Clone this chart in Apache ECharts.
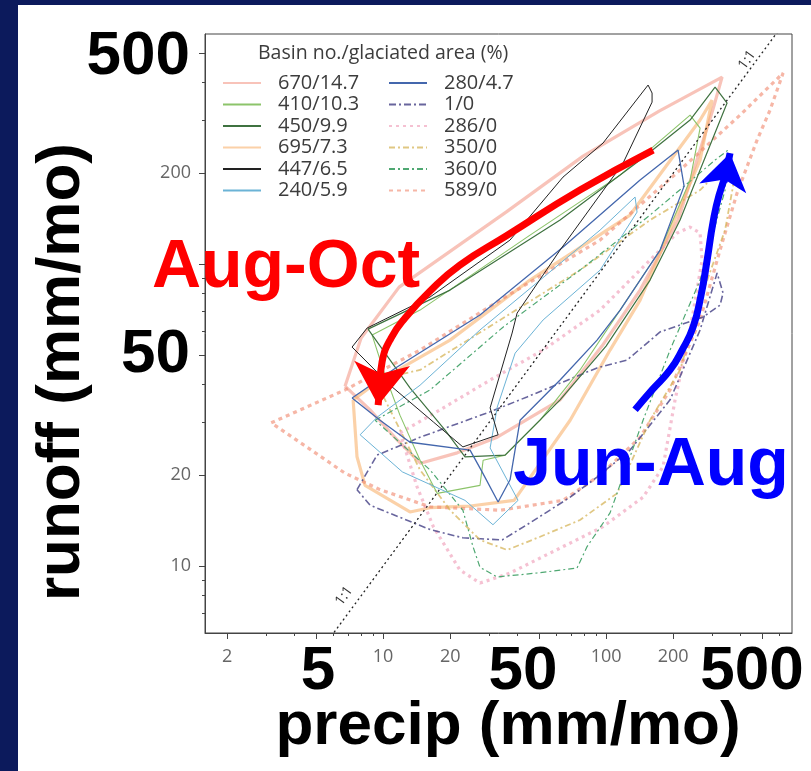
<!DOCTYPE html>
<html><head><meta charset="utf-8">
<script src="https://cdn.jsdelivr.net/npm/echarts@6/dist/echarts.min.js"></script>
<style>html,body{margin:0;padding:0;background:#fff;overflow:hidden}#c{width:811px;height:771px}</style>
</head><body><div id="c"></div>
<script>
// ---------- data (precip mm/mo, runoff mm/mo) ----------
const seriesNames = ['670/14.7','410/10.3','450/9.9','695/7.3','447/6.5','240/5.9','280/4.7','1/0','286/0','350/0','360/0','589/0'];
const s670 = [[6.75,39.4],[7.97,56.9],[11.8,83.9],[35.6,148.6],[78.9,227.8],[172.9,321.1],[331.3,416],[301.8,326.1],[210.3,139.9],[142.1,82.0],[95.9,53.5],[62.2,35.5],[32.5,26.7],[21.5,23.7],[14.7,21.9],[11.6,26.1],[8.74,32.9],[6.75,39.4]];
const s410 = [[8.93,58.2],[14.65,70.4],[45.6,124.7],[115.6,197.1],[238.1,311.5],[264.0,282.0],[238.1,189.7],[174.7,111.3],[115.6,70.4],[76.4,44.6],[50.6,30.4],[35.25,23.3],[28.1,22.4],[27.2,18.5],[17.5,17.4],[14.65,22.4],[11.9,31.6],[10.2,42.9],[8.93,58.2]];
const s450 = [[8.56,60.9],[19.97,82.0],[62.2,139.9],[142.1,221.0],[238.1,299.9],[308.2,385.6],[348.9,341.3],[264.0,204.8],[214.7,139.9],[157.5,88.5],[100,53.5],[62.2,35.5],[35.25,23.3],[23.3,23.0],[18.97,28.2],[13.2,38.9],[8.56,60.9]];
const s695 = [[7.34,35.5],[9.69,41.3],[19.97,56.0],[45.6,88.5],[128.1,145.3],[264.0,299.9],[298.7,349.2],[264.0,221.0],[193.6,129.6],[142.1,76.0],[104.2,51.9],[69.0,30.4],[38.7,16.5],[24.6,15.8],[16.25,15.6],[13.2,15.1],[8.3,18.5],[7.64,23.0],[7.34,35.5]];
const s447 = [[7.26,53.1],[8.48,61.4],[16.25,77.8],[37.1,120.1],[64.1,194.1],[96.9,251.6],[154.3,391.6],[160.8,368.5],[160.8,343.8],[119.2,216],[62.2,111.3],[39.9,68.8],[37.9,59.1],[30.2,33.4],[32.8,27.2],[22.8,24.8],[16.8,30.0],[10.75,39.7],[7.26,53.1]];
const s240 = [[7.89,27.2],[9.40,31.1],[14.65,39.7],[27.2,60.5],[50.6,88.5],[94.0,129.6],[134.9,166.7],[137.7,148.6],[94.0,95.5],[52.2,65.3],[39.1,50.7],[32.5,33.6],[30.2,24.6],[40.3,16.5],[31.1,13.7],[23.3,16.5],[12.2,20.5],[7.89,27.2]];
const s280 = [[7.26,36.0],[11.56,45.6],[27.2,67.8],[64.2,113.8],[142.1,189.7],[210.3,238.5],[223.8,181.2],[174.7,111.3],[115.6,70.4],[91.1,56.0],[62.2,41.3],[41.15,30.4],[37.1,19.3],[32.8,16.3],[27.8,20.5],[24.55,24.2],[13.2,25.7],[9.69,30.4],[7.26,36.0]];
const s1 = [[7.64,17.9],[9.40,23.3],[14.65,26.7],[30.2,32.4],[44.2,36.3],[91.1,45.3],[124.2,48.1],[174.7,59.6],[272.3,66.8],[324.5,73.1],[334.7,80.2],[314.7,93.4],[264.0,60.5],[193.6,35.5],[128.1,24.2],[91.1,19.7],[69.0,16.9],[45.6,13.9],[34.2,12.2],[22.8,12.4],[16.25,13.2],[8.74,15.9],[7.64,17.9]];
const s286 = [[11.92,27.6],[18.0,32.9],[30.2,41.3],[52.2,51.9],[94.0,70.4],[157.5,103.1],[208.2,126.7],[238.1,132.6],[264.0,126.7],[269.5,103.1],[238.1,60.5],[203.9,35.5],[180.1,21.3],[146.5,16.9],[96.9,13.5],[64.2,11.6],[37.1,9.48],[27.2,8.78],[22.1,9.7],[16.8,13.5],[14.2,18.3],[11.92,27.6]];
const s350 = [[9.21,41.3],[14.65,44.6],[33.5,65.3],[76.4,95.5],[157.5,139.9],[264.0,175.8],[341.7,212.7],[378.8,197.1],[341.7,129.6],[264.0,76.0],[214.7,44.6],[157.5,30.4],[112.0,17.4],[76.4,14.2],[50.6,12.5],[36.0,11.3],[27.2,12.2],[20.0,15.3],[14.65,20.8],[9.21,41.3]];
const s360 = [[9.21,30.4],[16.25,38.3],[34.5,61.8],[76.4,95.5],[157.5,145.3],[308.2,221.0],[352.5,238.5],[341.7,175.8],[264.0,88.5],[193.6,51.9],[146.5,30.4],[104.2,15.0],[82.2,11.6],[74.1,9.85],[49.05,9.48],[32.45,9.2],[27.2,9.9],[25.3,11.6],[22.8,15.3],[16.25,20.8],[9.21,30.4]];
const s589 = [[3.15,29.8],[6.75,38.3],[14.65,51.9],[33.5,76.0],[94.0,120.1],[214.7,204.8],[398.9,311.5],[621.9,429],[543.7,323.6],[475.5,257.4],[386.7,171.8],[324.5,111.3],[264.0,65.3],[193.6,38.3],[142.1,26.7],[94.0,20.0],[64.2,16.5],[33.5,15.3],[16.25,15.7],[9.69,17.9],[6.75,20.3],[3.15,29.8]];
const oneToOne = [[5.5,5.5],[700,700]];
// annotation arrows (data coordinates)
const arrowAugOct = [[162.5,238.5],[76.4,175.8],[35.6,123.8],[22.1,99.2],[16.25,81.4],[12.55,66.3],[10.86,56.9],[9.9,47.5],[9.6,37.7]];
const arrowAugOctHead = [[9.79,42.9],[9.5,34.1]];
const arrowJunAug = [[134.9,32.9],[160.8,38.3],[193.6,44.6],[219.2,51.9],[245.5,61.8],[266.7,79.0],[283.9,103.1],[301.8,137.7],[321.1,169.2],[348.9,201.7]];
const arrowJunAugHead = [[338.2,186.9],[359.7,233]];
// axes
const xRange = [1.59, 682];
const yRange = [6.0, 578];
const xLabels = [2,10,20,100,200];
const xMajorTicks = [2,5,10,20,50,100,200,500];
const xMinorTicks = [3,4,6,7,8,9,30,40,60,70,80,90,300,400,600];
const yLabels = [10,20,200];
const yMajorTicks = [10,20,50,100,200,500];
const yMinorTicks = [7,8,9,30,40,60,70,80,90,300,400];
const bigXLabels = ['5','50','500'];
const bigYLabels = ['500','50'];
const legendTitle = 'Basin no./glaciated area (%)';

// ---------- styles ----------
const dataByName = {'670/14.7':s670,'410/10.3':s410,'450/9.9':s450,'695/7.3':s695,'447/6.5':s447,'240/5.9':s240,'280/4.7':s280,'1/0':s1,'286/0':s286,'350/0':s350,'360/0':s360,'589/0':s589};
const styles = {
 '670/14.7': {color:'#f2927f', width:3.2, type:'solid', opacity:0.55, z:2},
 '410/10.3': {color:'#8cc46a', width:1.1, type:'solid', opacity:1, z:4},
 '450/9.9':  {color:'#3f7240', width:1.2, type:'solid', opacity:1, z:4},
 '695/7.3':  {color:'#f8b26e', width:3.2, type:'solid', opacity:0.6, z:2},
 '447/6.5':  {color:'#222222', width:1, type:'solid', opacity:1, z:5},
 '240/5.9':  {color:'#6bb3d6', width:1, type:'solid', opacity:1, z:4},
 '280/4.7':  {color:'#4467ad', width:1.3, type:'solid', opacity:1, z:4},
 '1/0':      {color:'#4d4a8c', width:1.6, type:[7,3,2,3], opacity:0.85, z:3},
 '286/0':    {color:'#ef97b4', width:3.2, type:[3,4], opacity:0.6, z:2},
 '350/0':    {color:'#d5b45a', width:1.8, type:[6,3,2,3], opacity:0.75, z:3},
 '360/0':    {color:'#4fa872', width:1.2, type:[6,3,2,3], opacity:1, z:3},
 '589/0':    {color:'#f0866a', width:3.2, type:[4,4], opacity:0.6, z:2}
};

const series = seriesNames.map(n => ({
  name:n, type:'line', data:dataByName[n], symbol:'none', z:styles[n].z, silent:true,
  itemStyle:{color:styles[n].color},
  lineStyle:{color:styles[n].color, width:styles[n].width, type:styles[n].type, opacity:styles[n].opacity}
}));
series.push({name:'1:1', type:'line', data:oneToOne, symbol:'none', z:6, silent:true,
  lineStyle:{color:'#222', width:1.3, type:[2,3]}});
function arrowBody(coords, color){
  return {type:'line', data:coords, smooth:0.5, symbol:'none', z:10, silent:true,
    lineStyle:{color:color, width:7, opacity:1, cap:'butt'}};
}
function arrowHead(coords, color, size){
  return {type:'lines', coordinateSystem:'cartesian2d', z:11, silent:true,
    data:[{coords:coords}], symbol:['none','arrow'], symbolSize:size,
    lineStyle:{color:color, width:7, opacity:1}, itemStyle:{color:color}};
}
series.push(arrowBody(arrowAugOct,'#ff0000'), arrowHead(arrowAugOctHead,'#ff0000',42));
series.push(arrowBody(arrowJunAug,'#0000ff'), arrowHead(arrowJunAugHead,'#0000ff',36));

const navy = '#0c1a5c';
const smallFont = 'Open Sans';
const bigFont = 'Liberation Sans, Arial, sans-serif';
const bigXPos = [[318,672],[523,672],[752,672]];
const bigYPos = [[190,57],[190,355]];

const graphic = [
  {type:'rect', shape:{x:0,y:0,width:18,height:771}, style:{fill:navy}, z:200},
  {type:'rect', shape:{x:0,y:0,width:811,height:5}, style:{fill:navy}, z:200},
  {type:'text', x:62, y:372, rotation:Math.PI/2, z:100, style:{text:'runoff (mm/mo)', fontFamily:bigFont, fontWeight:'bold', fontSize:62, fill:'#000', textAlign:'center', textVerticalAlign:'middle'}},
  {type:'text', x:508, y:727, z:100, style:{text:'precip (mm/mo)', fontFamily:bigFont, fontWeight:'bold', fontSize:62, fill:'#000', textAlign:'center', textVerticalAlign:'middle'}},
  {type:'text', x:286, y:268, z:100, style:{text:'Aug-Oct', fontFamily:bigFont, fontWeight:'bold', fontSize:68, fill:'#ff0000', textAlign:'center', textVerticalAlign:'middle'}},
  {type:'text', x:651, y:466, z:100, style:{text:'Jun-Aug', fontFamily:bigFont, fontWeight:'bold', fontSize:68, fill:'#0000ff', textAlign:'center', textVerticalAlign:'middle'}},
  {type:'text', x:747, y:60, rotation:0.94, z:50, style:{text:'1:1', fontFamily:smallFont, fontSize:14, fill:'#333', textAlign:'center', textVerticalAlign:'middle'}},
  {type:'text', x:344, y:596, rotation:0.94, z:50, style:{text:'1:1', fontFamily:smallFont, fontSize:14, fill:'#333', textAlign:'center', textVerticalAlign:'middle'}}
];
bigXLabels.forEach((t,i)=>graphic.push({type:'text', x:bigXPos[i][0], y:bigXPos[i][1], z:100,
  style:{text:t, fontFamily:bigFont, fontWeight:'bold', fontSize:62, fill:'#000', textAlign:'center', textVerticalAlign:'middle'}}));
bigYLabels.forEach((t,i)=>graphic.push({type:'text', x:bigYPos[i][0], y:bigYPos[i][1], z:100,
  style:{text:t, fontFamily:bigFont, fontWeight:'bold', fontSize:62, fill:'#000', textAlign:'right', textVerticalAlign:'middle'}}));

const axisColor = '#444';
const legendBase = {orient:'vertical', itemWidth:38, itemHeight:14, itemGap:1.5, top:73, padding:0, selectedMode:false,
  itemStyle:{opacity:0},
  textStyle:{fontFamily:smallFont, fontSize:20, color:'#3c3c3c', lineHeight:20, padding:[0,0,0,12]}};

const option = {
  animation:false,
  backgroundColor:'#ffffff',
  title:{text:legendTitle, left:258, top:43, padding:0, textStyle:{fontFamily:smallFont, fontSize:19.5, fontWeight:'normal', color:'#3c3c3c'}},
  legend:[
    Object.assign({}, legendBase, {left:222, data:seriesNames.slice(0,6)}),
    Object.assign({}, legendBase, {left:388, data:seriesNames.slice(6)})
  ],
  grid:{left:205, right:19, top:34, bottom:138, show:true, borderColor:axisColor, borderWidth:1, backgroundColor:'transparent', containLabel:false, outerBoundsMode:'none'},
  xAxis:[
    {type:'log', logBase:10, min:xRange[0], max:xRange[1], position:'bottom',
     axisLine:{show:true, onZero:false, lineStyle:{color:axisColor, width:1}},
     axisTick:{show:true, inside:false, length:6, customValues:xMajorTicks, lineStyle:{color:axisColor}},
     splitLine:{show:false}, minorTick:{show:false},
     axisLabel:{customValues:xLabels, margin:15, color:'#666', fontSize:18, fontFamily:smallFont, formatter:v=>String(Math.round(v))}},
    {type:'log', logBase:10, min:xRange[0], max:xRange[1], position:'bottom',
     axisLine:{show:false}, splitLine:{show:false}, axisLabel:{show:false},
     axisTick:{show:true, inside:false, length:3, customValues:xMinorTicks, lineStyle:{color:axisColor}}}
  ],
  yAxis:[
    {type:'log', logBase:10, min:yRange[0], max:yRange[1], position:'left',
     axisLine:{show:true, onZero:false, lineStyle:{color:axisColor, width:1}},
     axisTick:{show:true, inside:false, length:6, customValues:yMajorTicks, lineStyle:{color:axisColor}},
     splitLine:{show:false}, minorTick:{show:false},
     axisLabel:{customValues:yLabels, margin:14, color:'#666', fontSize:18, fontFamily:smallFont, formatter:v=>String(Math.round(v))}},
    {type:'log', logBase:10, min:yRange[0], max:yRange[1], position:'left',
     axisLine:{show:false}, splitLine:{show:false}, axisLabel:{show:false},
     axisTick:{show:true, inside:false, length:3, customValues:yMinorTicks, lineStyle:{color:axisColor}}}
  ],
  graphic:graphic,
  series:series
};
const chart = echarts.init(document.getElementById('c'), null, {renderer:'canvas'});
chart.setOption(option);
</script>
</body></html>
